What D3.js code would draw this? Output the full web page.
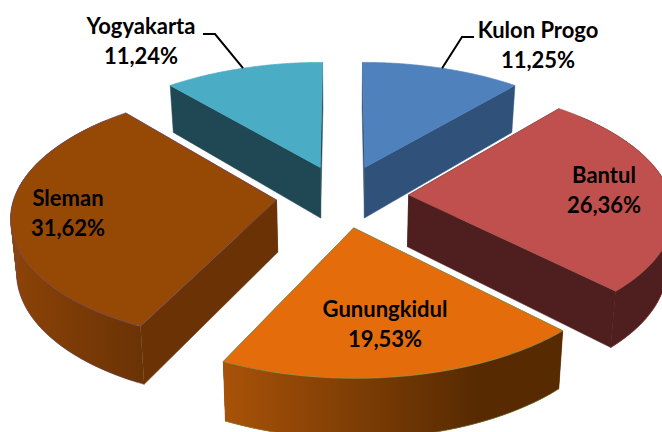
<!DOCTYPE html>
<html><head><meta charset="utf-8">
<script src="https://cdn.jsdelivr.net/npm/d3@7"></script>
<style>html,body{margin:0;padding:0;background:#fff;overflow:hidden}svg{display:block}</style>
</head><body><svg id="c" width="662" height="432"></svg>
<script>
const categories = ["Kulon Progo","Bantul","Gunungkidul","Sleman","Yogyakarta"];
const values = [11.25,26.36,19.53,31.62,11.24];
const valueLabels = ["11,25%","26,36%","19,53%","31,62%","11,24%"];
const topColors = ["#4F81BD","#C0504D","#E46C0A","#964805","#4BACC6"];
const sideColors = ["#30527A","#4F1F1F","#5A2B02","#6B3305","#1F4854"];
const wallLeft = ["#30527A","#4F1F1F","#A85208","#8C4307","#1F4854"];
const wallRight = ["#30527A","#4F1F1F","#572A02","#6B3305","#1F4854"];
const strokeColors = ["#4F81BD","#A5524F","#7F9A55","#6A4A70","#4BACC6"];
const labelPos = [[538,38],[604,183],[385,317],[68,206],[141,34]];
const drawOrder = [4,0,3,1,2];
const leaders = {0:[[474,37],[462,37]],4:[[203,34],[215,34]]};

const svg = d3.select("#c");
const defs = svg.append("defs");
const cx=342.5, cy=196, A=262, B=124, persp=.12, explode=.253;
const depth={dy:52,sx:.982,sy:1.046};
function proj(x,z){const w=1-persp*z;return [cx+A*x/w,cy+B*z/w];}
function lower(p){return [cx+(p[0]-cx)*depth.sx,cy+depth.dy+(p[1]-cy)*depth.sy];}
const arcs=d3.pie().sort(null).value(d=>d)(values);
const line=d3.line();
function rim(d,i,ang){
  const mid=(d.startAngle+d.endAngle)/2;
  return proj(explode*Math.sin(mid)+Math.sin(ang),-explode*Math.cos(mid)-Math.cos(ang));
}
function apex(d){const mid=(d.startAngle+d.endAngle)/2;return proj(explode*Math.sin(mid),-explode*Math.cos(mid));}

drawOrder.forEach(i=>{
  const d=arcs[i],n=80;
  const angs=d3.range(n+1).map(k=>d.startAngle+(d.endAngle-d.startAngle)*k/n);
  const outer=angs.map(a=>rim(d,i,a));
  const front=angs.filter(a=>Math.cos(a)<.7).map(a=>rim(d,i,a));
  const ap=apex(d);
  const g=svg.append("g").attr("class","slice");
  [outer[0],outer[n]].forEach(p=>{
    g.append("path").attr("d",line([ap,p,lower(p),lower(ap)])+"Z").attr("fill",sideColors[i])
      .attr("stroke",sideColors[i]).attr("stroke-width",.5);
  });
  if(front.length>1){
    const gid="w"+i;
    const xs=front.map(p=>p[0]);
    const gr=defs.append("linearGradient").attr("id",gid).attr("gradientUnits","userSpaceOnUse")
      .attr("x1",d3.min(xs)).attr("x2",d3.max(xs)).attr("y1",0).attr("y2",0);
    gr.append("stop").attr("offset",0).attr("stop-color",wallLeft[i]);
    gr.append("stop").attr("offset",i==2?.75:1).attr("stop-color",wallRight[i]);
    const w=g.append("g");
    front.forEach((a,k)=>{
      const b=front[Math.min(k+3,front.length-1)];
      if(b===a) return;
      w.append("path").attr("d",line([a,b,lower(b),lower(a)])+"Z").attr("fill","url(#"+gid+")");
    });
    g.append("path").attr("d",line(front.map(lower))).attr("fill","none")
      .attr("stroke",strokeColors[i]).attr("stroke-width",.6);
  }
  g.append("path").attr("d",line([ap].concat(outer))+"Z").attr("fill",topColors[i])
    .attr("stroke",strokeColors[i]).attr("stroke-width",.7);
});

Object.keys(leaders).forEach(k=>{
  const i=+k,d=arcs[i],mid=(d.startAngle+d.endAngle)/2;
  svg.append("path").attr("d",line(leaders[k].concat([rim(d,i,mid)]))).attr("fill","none")
    .attr("stroke","#000").attr("stroke-width",2);
});

categories.forEach((c,i)=>{
  const t=svg.append("text").attr("text-anchor","middle")
    .attr("font-family","Lato, 'Open Sans', sans-serif").attr("font-weight",700)
    .attr("font-size",22).attr("fill","#000");
  t.append("tspan").attr("x",labelPos[i][0]).attr("y",labelPos[i][1]).text(c);
  t.append("tspan").attr("x",labelPos[i][0]).attr("y",labelPos[i][1]+29.5).text(valueLabels[i]);
});
</script></body></html>
